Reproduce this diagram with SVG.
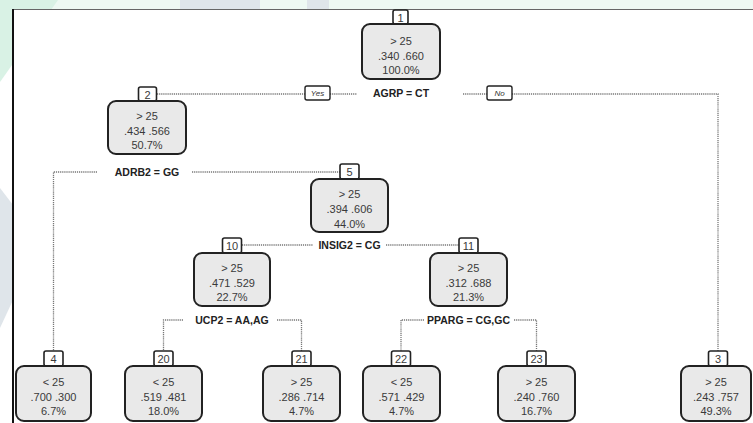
<svg xmlns="http://www.w3.org/2000/svg" width="753" height="423" viewBox="0 0 753 423">
<style>
.box{fill:#e9e9e9;stroke:#222;stroke-width:2}
.lab{fill:#fff;stroke:#222;stroke-width:1.6}
.yn{fill:#fff;stroke:#222;stroke-width:1.4}
.t{font-family:"Liberation Sans",Arial,sans-serif;font-size:11px;fill:#3a3a3a;text-anchor:middle}
.n{font-family:"Liberation Sans",Arial,sans-serif;font-size:11px;fill:#3a3a3a;text-anchor:middle}
.s{font-family:"Liberation Sans",Arial,sans-serif;font-size:10.5px;font-weight:bold;fill:#222;text-anchor:middle}
.i{font-family:"Liberation Sans",Arial,sans-serif;font-size:8px;font-style:italic;fill:#333;text-anchor:middle}
.c{fill:none;stroke:#777;stroke-width:1.3;stroke-dasharray:1.2 0.9}
</style>
<rect width="753" height="423" fill="#fff"/>
<g id="watermark">
<rect x="0" y="0" width="753" height="9" fill="#eef9f3"/>
<polygon points="0,0 58,0 0,82" fill="#d9f2e5"/>
<rect x="180" y="0" width="80" height="9" fill="#dfe5ea"/>
<rect x="307" y="0" width="22" height="9" fill="#dfe5ea"/>
<polygon points="0,188 13,205 13,300 0,328" fill="#dfe5ea"/>
</g>
<rect x="13" y="9" width="740" height="414" fill="#fff"/>
<line x1="13" y1="9.5" x2="753" y2="9.5" stroke="#666" stroke-width="1"/>
<line x1="13" y1="9" x2="13" y2="423" stroke="#111" stroke-width="2"/>
<g id="connectors">
<path class="c" d="M157 94 H305 M330 94 H357"/>
<path class="c" d="M463 94 H487 M512 94 H718 V351"/>
<path class="c" d="M97 172 H53.5 V351 M192 172 H340"/>
<path class="c" d="M242 245 H313 M386 245 H459"/>
<path class="c" d="M183 320 H163.5 V351 M277 320 H301.5 V351"/>
<path class="c" d="M424 320 H401 V351 M514 320 H536.5 V351"/>
<rect class="yn" x="305" y="86" width="25" height="14" rx="2"/>
<text class="i" x="317.5" y="96">Yes</text>
<rect class="yn" x="487" y="86" width="25" height="14" rx="2"/>
<text class="i" x="499.5" y="96">No</text>
</g>
<g id="node1">
<rect class="lab" x="393" y="10" width="15" height="14" rx="2"/>
<text class="n" x="400.5" y="21.5">1</text>
<rect class="box" x="362" y="24" width="78" height="55" rx="8"/>
<text class="t" x="401" y="45">&gt; 25</text>
<text class="t" x="401" y="59.5">.340 .660</text>
<text class="t" x="401" y="74">100.0%</text>
<text class="s" x="401" y="97">AGRP = CT</text>
</g>
<g id="node2">
<rect class="lab" x="138.5" y="87" width="18" height="14" rx="2"/>
<text class="n" x="147.5" y="98.5">2</text>
<rect class="box" x="108" y="101" width="78" height="53" rx="8"/>
<text class="t" x="147" y="120">&gt; 25</text>
<text class="t" x="147" y="134.5">.434 .566</text>
<text class="t" x="147" y="149">50.7%</text>
<text class="s" x="147" y="176">ADRB2 = GG</text>
</g>
<g id="node5">
<rect class="lab" x="340" y="164" width="19" height="15" rx="2"/>
<text class="n" x="349.5" y="176">5</text>
<rect class="box" x="311" y="179" width="77" height="53" rx="8"/>
<text class="t" x="349.5" y="198">&gt; 25</text>
<text class="t" x="349.5" y="213">.394 .606</text>
<text class="t" x="349.5" y="227.5">44.0%</text>
<text class="s" x="349.5" y="248.5">INSIG2 = CG</text>
</g>
<g id="node10">
<rect class="lab" x="222.5" y="238" width="19" height="15" rx="2"/>
<text class="n" x="232" y="250">10</text>
<rect class="box" x="194" y="253" width="76" height="53" rx="8"/>
<text class="t" x="232" y="272">&gt; 25</text>
<text class="t" x="232" y="286.5">.471 .529</text>
<text class="t" x="232" y="301">22.7%</text>
<text class="s" x="232" y="324">UCP2 = AA,AG</text>
</g>
<g id="node11">
<rect class="lab" x="459" y="238" width="19" height="15" rx="2"/>
<text class="n" x="468.5" y="250">11</text>
<rect class="box" x="430" y="253" width="77" height="53" rx="8"/>
<text class="t" x="468.5" y="272">&gt; 25</text>
<text class="t" x="468.5" y="286.5">.312 .688</text>
<text class="t" x="468.5" y="301">21.3%</text>
<text class="s" x="468.5" y="324">PPARG = CG,GC</text>
</g>
<g id="node4">
<rect class="lab" x="44" y="351" width="19" height="15" rx="2"/>
<text class="n" x="53.5" y="363">4</text>
<rect class="box" x="16" y="366" width="75" height="55" rx="8"/>
<text class="t" x="53.5" y="386">&lt; 25</text>
<text class="t" x="53.5" y="400.5">.700 .300</text>
<text class="t" x="53.5" y="415">6.7%</text>
</g>
<g id="node20">
<rect class="lab" x="154" y="351" width="19" height="15" rx="2"/>
<text class="n" x="163.5" y="363">20</text>
<rect class="box" x="125" y="366" width="77" height="55" rx="8"/>
<text class="t" x="163.5" y="386">&lt; 25</text>
<text class="t" x="163.5" y="400.5">.519 .481</text>
<text class="t" x="163.5" y="415">18.0%</text>
</g>
<g id="node21">
<rect class="lab" x="292" y="351" width="19" height="15" rx="2"/>
<text class="n" x="301.5" y="363">21</text>
<rect class="box" x="263" y="366" width="77" height="55" rx="8"/>
<text class="t" x="301.5" y="386">&gt; 25</text>
<text class="t" x="301.5" y="400.5">.286 .714</text>
<text class="t" x="301.5" y="415">4.7%</text>
</g>
<g id="node22">
<rect class="lab" x="391.5" y="351" width="19" height="15" rx="2"/>
<text class="n" x="401" y="363">22</text>
<rect class="box" x="363" y="366" width="77" height="55" rx="8"/>
<text class="t" x="401.5" y="386">&lt; 25</text>
<text class="t" x="401.5" y="400.5">.571 .429</text>
<text class="t" x="401.5" y="415">4.7%</text>
</g>
<g id="node23">
<rect class="lab" x="527" y="351" width="19" height="15" rx="2"/>
<text class="n" x="536.5" y="363">23</text>
<rect class="box" x="498" y="366" width="77" height="55" rx="8"/>
<text class="t" x="536.5" y="386">&gt; 25</text>
<text class="t" x="536.5" y="400.5">.240 .760</text>
<text class="t" x="536.5" y="415">16.7%</text>
</g>
<g id="node3">
<rect class="lab" x="708.5" y="351" width="19" height="15" rx="2"/>
<text class="n" x="718" y="363">3</text>
<rect class="box" x="681" y="366" width="70" height="55" rx="8"/>
<text class="t" x="716" y="386">&gt; 25</text>
<text class="t" x="716" y="400.5">.243 .757</text>
<text class="t" x="716" y="415">49.3%</text>
</g>
</svg>
